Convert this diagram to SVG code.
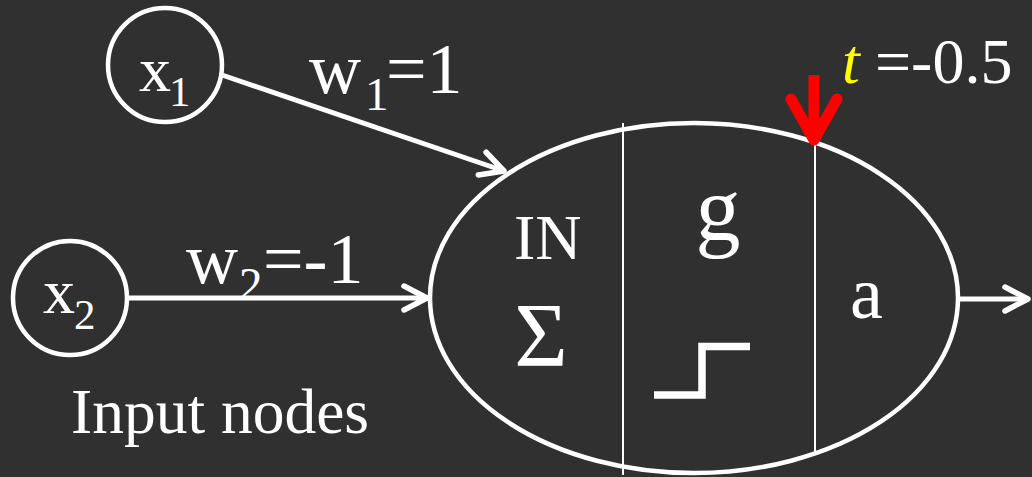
<svg xmlns="http://www.w3.org/2000/svg" width="1032" height="477" viewBox="0 0 1032 477">
  <style>
    .t { font-family: "Liberation Serif", "Times New Roman", serif; fill: #ffffff; }
    .node { fill: none; stroke: #ffffff; stroke-width: 4.5; }
    .edge { fill: none; stroke: #ffffff; stroke-width: 5; }
    .div { stroke: #ffffff; stroke-width: 2; }
  </style>
  <defs>
    <marker id="arr" markerUnits="userSpaceOnUse" viewBox="-30 -16 36 32" markerWidth="36" markerHeight="32" refX="0" refY="0" orient="auto" overflow="visible">
      <path d="M-23,-12 L0,0 L-23,12" fill="none" stroke="#ffffff" stroke-width="5.5" stroke-linecap="round" stroke-linejoin="round"/>
    </marker>
  </defs>
  <rect width="1032" height="477" fill="#303030"/>

  <g id="connectors">
    <line class="edge" x1="222" y1="75" x2="504" y2="171" marker-end="url(#arr)"/>
    <line class="edge" x1="127" y1="298" x2="427" y2="298" marker-end="url(#arr)"/>
    <line class="edge" x1="960" y1="299" x2="1028" y2="299" marker-end="url(#arr)"/>
  </g>

  <g id="node-x1">
    <circle class="node" cx="165" cy="65" r="57"/>
    <text class="t" x="139" y="91" font-size="64">x<tspan x="169" y="106" font-size="43">1</tspan></text>
  </g>

  <g id="node-x2">
    <circle class="node" cx="70" cy="298" r="57"/>
    <text class="t" x="43" y="313" font-size="64">x<tspan x="74" y="329" font-size="43">2</tspan></text>
  </g>

  <g id="label-w1">
    <text class="t" x="309" y="93" font-size="72">w<tspan x="365" y="110" font-size="47">1</tspan><tspan x="386" y="93">=1</tspan></text>
  </g>

  <g id="label-w2">
    <text class="t" x="186" y="283" font-size="72">w<tspan x="239" y="300" font-size="47">2</tspan><tspan x="263" y="283">=-1</tspan></text>
  </g>

  <g id="label-input">
    <text class="t" x="71" y="433" font-size="63.5">Input nodes</text>
  </g>

  <g id="neuron">
    <ellipse class="node" cx="694" cy="298" rx="264" ry="175"/>
    <line class="div" x1="623" y1="123" x2="623" y2="475"/>
    <line class="div" x1="815" y1="145" x2="815" y2="452"/>
    <text class="t" x="514" y="259" font-size="64">IN</text>
    <text class="t" x="541" y="366" font-size="92" text-anchor="middle">Σ</text>
    <text class="t" x="718" y="240" font-size="90" text-anchor="middle">g</text>
    <path d="M654,395 H702 V346.5 H750" fill="none" stroke="#ffffff" stroke-width="7.5"/>
    <text class="t" x="866.5" y="318" font-size="74" text-anchor="middle">a</text>
  </g>

  <g id="threshold">
    <line x1="814" y1="75" x2="814" y2="132" stroke="#ff0000" stroke-width="11"/>
    <path d="M791,99 L814,140 L837,99" fill="none" stroke="#ff0000" stroke-width="11" stroke-linecap="round" stroke-linejoin="round"/>
    <polygon points="805,128 823,128 814,146" fill="#ff0000"/>
    <text class="t" x="842" y="83" font-size="64" font-style="italic" style="fill:#ffff00">t</text>
    <text class="t" x="875" y="83" font-size="64">=-0.5</text>
  </g>
</svg>
